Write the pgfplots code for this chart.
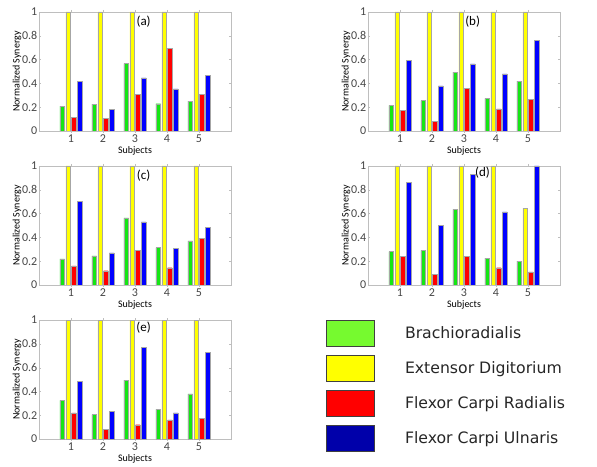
\documentclass[border=0pt]{standalone}
\usepackage{pgfplots}
\pgfplotsset{compat=1.18}
\usepackage{pgfplotstable}
\usepackage{fontspec}
\setmainfont{Carlito}
\newfontfamily\legfont{DejaVu Sans}
\definecolor{cG}{RGB}{20,230,20}
\definecolor{cY}{RGB}{255,255,0}
\definecolor{cR}{RGB}{255,0,0}
\definecolor{cB}{RGB}{0,0,255}
\definecolor{lG}{RGB}{118,250,47}
\definecolor{lB}{RGB}{0,0,170}
\definecolor{axgray}{RGB}{190,190,190}
\definecolor{txgray}{RGB}{70,70,70}

\pgfplotstableread{
x g y r b
1 0.21 1 0.117 0.42
2 0.226 1 0.109 0.179
3 0.567 1 0.31 0.447
4 0.229 1 0.696 0.355
5 0.251 1 0.307 0.469
}\dataA
\pgfplotstableread{
x g y r b
1 0.215 1 0.175 0.595
2 0.255 1 0.08 0.38
3 0.495 1 0.36 0.565
4 0.275 1 0.185 0.48
5 0.42 1 0.265 0.76
}\dataB
\pgfplotstableread{
x g y r b
1 0.22 1 0.16 0.70
2 0.245 1 0.12 0.27
3 0.565 1 0.29 0.53
4 0.315 1 0.145 0.31
5 0.37 1 0.394 0.483
}\dataC
\pgfplotstableread{
x g y r b
1 0.28 1 0.24 0.865
2 0.29 1 0.09 0.50
3 0.635 1 0.24 0.93
4 0.225 1 0.145 0.615
5 0.20 0.645 0.11 1.0
}\dataD
\pgfplotstableread{
x g y r b
1 0.325 1 0.22 0.485
2 0.205 1 0.08 0.23
3 0.495 1 0.12 0.77
4 0.25 1 0.16 0.22
5 0.38 1 0.176 0.729
}\dataE

\pgfplotsset{
 synstyle/.style={
  scale only axis, width=192pt, height=119pt, anchor=south west,
  xmin=0, xmax=6, ymin=0, ymax=1,
  xtick={1,2,3,4,5}, ytick={0,0.2,0.4,0.6,0.8,1},
  tick align=inside, major tick length=2pt,
  axis line style={axgray}, tick style={axgray},
  ticklabel style={font=\fontsize{12}{12}\selectfont, text=txgray},
  yticklabel style={inner sep=1.5pt},
  xticklabel style={inner sep=2pt},
  /pgf/number format/assume math mode=true,
  xlabel={Subjects}, ylabel={Normalized Synergy},
  label style={font=\fontsize{10}{10}\selectfont, text=txgray},
  every axis x label/.style={at={([yshift=-20pt]axis description cs:0.5,0)}, anchor=center},
  every axis y label/.style={at={([xshift=-22pt]axis description cs:0,0.5)}, anchor=center, rotate=90},
  ybar, bar width=0.145,
  every axis plot/.append style={draw=gray!70, line width=0.4pt},
 },
}
\newcommand{\fourbars}[1]{%
  \addplot[fill=cG, bar shift=-0.273] table[x=x,y=g]{#1};
  \addplot[fill=cY, bar shift=-0.091] table[x=x,y=y]{#1};
  \addplot[fill=cR, bar shift=0.091] table[x=x,y=r]{#1};
  \addplot[fill=cB, bar shift=0.273] table[x=x,y=b]{#1};
}
\newcommand{\panel}[3]{\node[font=\fontsize{13}{13}\selectfont, text=black] at (axis cs:#1,#2) {#3};}

\begin{document}
\begin{tikzpicture}
\path (0pt,0pt) rectangle (597pt,460pt);
\begin{axis}[synstyle, at={(39pt,329pt)}]
\fourbars{\dataA}
\panel{3.27}{0.92}{(a)}
\end{axis}
\begin{axis}[synstyle, at={(368pt,329pt)}]
\fourbars{\dataB}
\panel{3.27}{0.92}{(b)}
\end{axis}
\begin{axis}[synstyle, at={(39pt,175pt)}]
\fourbars{\dataC}
\panel{3.27}{0.92}{(c)}
\end{axis}
\begin{axis}[synstyle, at={(368pt,175pt)}]
\fourbars{\dataD}
\panel{3.58}{0.945}{(d)}
\end{axis}
\begin{axis}[synstyle, at={(39pt,21pt)}]
\fourbars{\dataE}
\panel{3.27}{0.935}{(e)}
\end{axis}
\begin{axis}[at={(326pt,0pt)}, anchor=south west, scale only axis,
  width=271pt, height=140pt, hide axis, xmin=0, xmax=1, ymin=0, ymax=1,
  legend cell align=left,
  legend style={at={(0,1)}, anchor=north west, draw=none, fill=none,
    inner xsep=0pt, inner ysep=0pt,
    font=\legfont\fontsize{15.7}{16}\selectfont, text=black!85,
    row sep=8pt,
    /tikz/every odd column/.append style={column sep=28pt}},
  legend image code/.code={\draw[#1, draw=black!75, line width=0.8pt] (0pt,-13pt) rectangle (48pt,13pt);},
]
\addlegendimage{fill=lG}
\addlegendentry{Brachioradialis}
\addlegendimage{fill=cY}
\addlegendentry{Extensor Digitorium}
\addlegendimage{fill=cR}
\addlegendentry{Flexor Carpi Radialis}
\addlegendimage{fill=lB}
\addlegendentry{Flexor Carpi Ulnaris}
\end{axis}
\end{tikzpicture}
\end{document}
